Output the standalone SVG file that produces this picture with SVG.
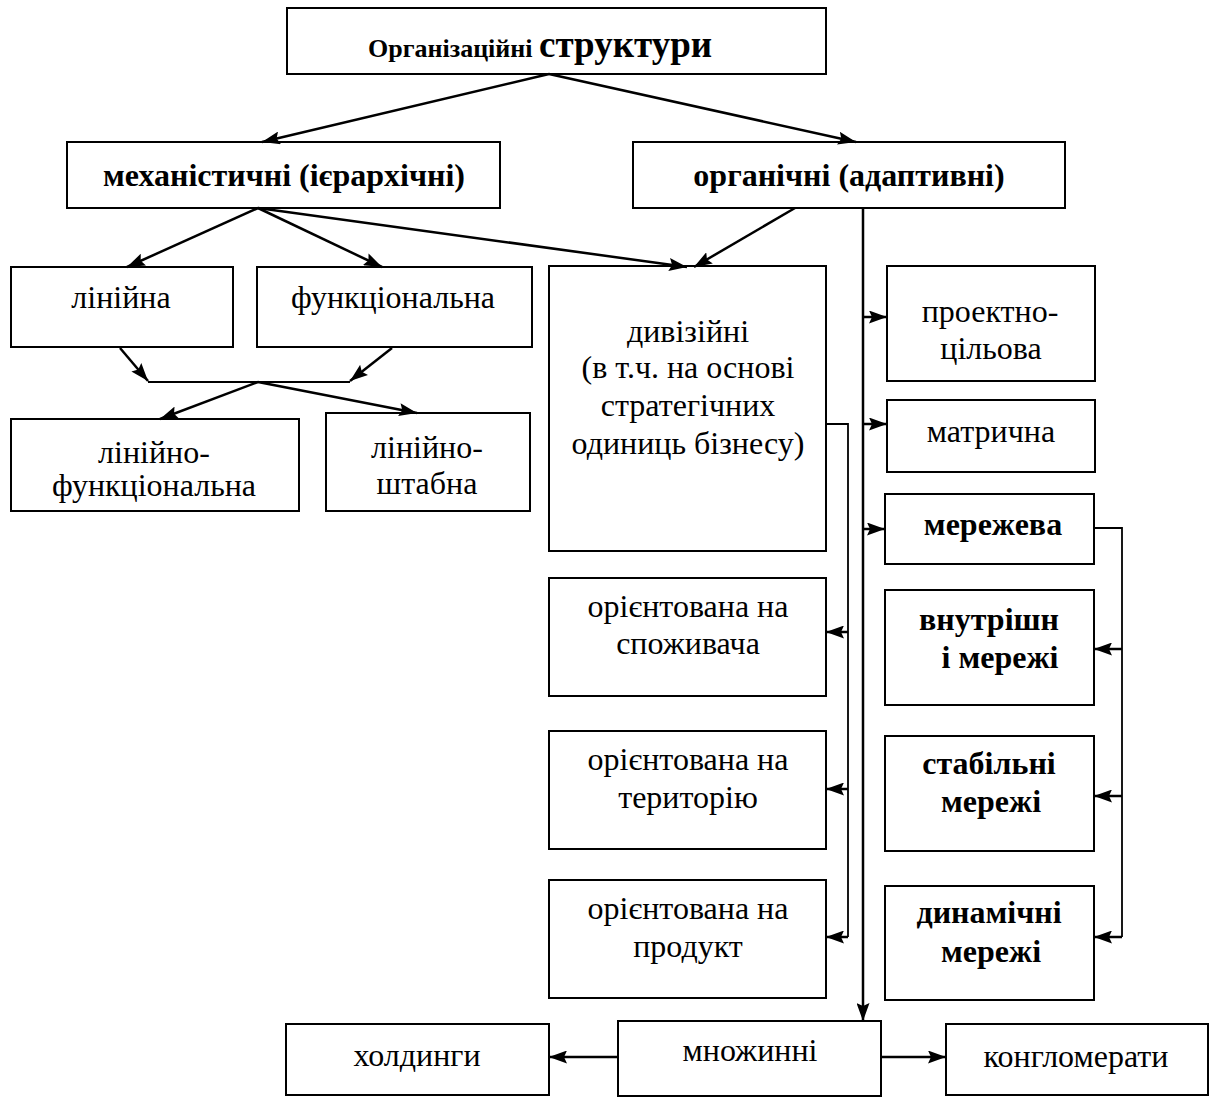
<svg xmlns="http://www.w3.org/2000/svg" width="1210" height="1097" viewBox="0 0 1210 1097">
<style>
.box{fill:#fff;stroke:#000;stroke-width:2}
text{font-family:'Liberation Serif',serif;font-size:32px;text-anchor:middle;fill:#000}
.b{font-weight:bold}
.c{fill:none;stroke:#000;stroke-width:2.5}
.th{fill:none;stroke:#000;stroke-width:1.8}
</style>
<defs>
<marker id="ah" viewBox="0 0 18 13" refX="18" refY="6.5" markerWidth="18" markerHeight="13" markerUnits="userSpaceOnUse" orient="auto">
<path d="M0,0 L18,6.5 L0,13 L3,6.5 z" fill="#000"/>
</marker>
</defs>
<g id="n-root"><rect class="box" x="287" y="8" width="539" height="66"/>
<text class="b" x="368" y="57" style="text-anchor:start"><tspan font-size="26">Організаційні  </tspan><tspan font-size="37">структури</tspan></text></g>
<g id="n-mech"><rect class="box" x="67" y="142" width="433" height="66"/><text class="b" x="284" y="186">механістичні (ієрархічні)</text></g>
<g id="n-org"><rect class="box" x="633" y="142" width="432" height="66"/><text class="b" x="849" y="186">органічні (адаптивні)</text></g>
<g id="n-lin"><rect class="box" x="11" y="267" width="222" height="80"/><text x="121" y="308">лінійна</text></g>
<g id="n-func"><rect class="box" x="257" y="267" width="275" height="80"/><text x="393" y="308">функціональна</text></g>
<g id="n-linfunc"><rect class="box" x="11" y="419" width="288" height="92"/><text x="154" y="463">лінійно-</text><text x="154" y="496">функціональна</text></g>
<g id="n-linshtab"><rect class="box" x="326" y="413" width="204" height="98"/><text x="427" y="458">лінійно-</text><text x="427" y="494">штабна</text></g>
<g id="n-div"><rect class="box" x="549" y="266" width="277" height="285"/>
<text x="688" y="342">дивізійні</text><text x="688" y="378">(в т.ч. на основі</text><text x="688" y="416">стратегічних</text><text x="688" y="454">одиниць бізнесу)</text></g>
<g id="n-cons"><rect class="box" x="549" y="578" width="277" height="118"/><text x="688" y="617">орієнтована на</text><text x="688" y="654">споживача</text></g>
<g id="n-terr"><rect class="box" x="549" y="731" width="277" height="118"/><text x="688" y="770">орієнтована на</text><text x="688" y="808">територію</text></g>
<g id="n-prod"><rect class="box" x="549" y="880" width="277" height="118"/><text x="688" y="919">орієнтована на</text><text x="688" y="957">продукт</text></g>
<g id="n-proj"><rect class="box" x="887" y="266" width="208" height="115"/><text x="990" y="322">проектно-</text><text x="991" y="359">цільова</text></g>
<g id="n-matr"><rect class="box" x="887" y="400" width="208" height="72"/><text x="991" y="442">матрична</text></g>
<g id="n-net"><rect class="box" x="885" y="494" width="209" height="70"/><text class="b" x="993" y="535">мережева</text></g>
<g id="n-inner"><rect class="box" x="885" y="590" width="209" height="115"/><text class="b" x="989" y="630">внутрішн</text><text class="b" x="1000" y="668">і мережі</text></g>
<g id="n-stab"><rect class="box" x="885" y="736" width="209" height="115"/><text class="b" x="989" y="774">стабільні</text><text class="b" x="991" y="812">мережі</text></g>
<g id="n-dyn"><rect class="box" x="885" y="886" width="209" height="114"/><text class="b" x="989" y="923">динамічні</text><text class="b" x="991" y="962">мережі</text></g>
<g id="n-mult"><rect class="box" x="618" y="1021" width="263" height="75"/><text x="750" y="1061">множинні</text></g>
<g id="n-hold"><rect class="box" x="286" y="1024" width="263" height="71"/><text x="417" y="1066">холдинги</text></g>
<g id="n-cong"><rect class="box" x="946" y="1024" width="262" height="71"/><text x="1076" y="1067">конгломерати</text></g>
<g id="connectors">
<line class="c" x1="549" y1="74" x2="262" y2="142" marker-end="url(#ah)"/>
<line class="c" x1="549" y1="74" x2="856" y2="142" marker-end="url(#ah)"/>
<line class="c" x1="258" y1="208" x2="127" y2="267" marker-end="url(#ah)"/>
<line class="c" x1="258" y1="208" x2="382" y2="267" marker-end="url(#ah)"/>
<line class="c" x1="258" y1="208" x2="687" y2="267" marker-end="url(#ah)"/>
<line class="c" x1="795" y1="208" x2="694" y2="267" marker-end="url(#ah)"/>
<line class="c" x1="120" y1="348" x2="148" y2="381" marker-end="url(#ah)"/>
<line class="c" x1="392" y1="348" x2="350" y2="381" marker-end="url(#ah)"/>
<line class="th" x1="148" y1="382" x2="350" y2="382"/>
<line class="c" x1="258" y1="382" x2="160" y2="419" marker-end="url(#ah)"/>
<line class="c" x1="258" y1="382" x2="417" y2="413" marker-end="url(#ah)"/>
<line class="c" x1="863" y1="208" x2="863" y2="1021" marker-end="url(#ah)"/>
<line class="c" x1="863" y1="317" x2="887" y2="317" marker-end="url(#ah)"/>
<line class="c" x1="863" y1="424" x2="887" y2="424" marker-end="url(#ah)"/>
<line class="c" x1="863" y1="529" x2="885" y2="529" marker-end="url(#ah)"/>
<polyline class="th" points="826,424 848,424 848,937"/>
<line class="c" x1="848" y1="632" x2="826" y2="632" marker-end="url(#ah)"/>
<line class="c" x1="848" y1="789" x2="826" y2="789" marker-end="url(#ah)"/>
<line class="c" x1="848" y1="937" x2="826" y2="937" marker-end="url(#ah)"/>
<polyline class="th" points="1094,528 1122,528 1122,937"/>
<line class="c" x1="1122" y1="649" x2="1094" y2="649" marker-end="url(#ah)"/>
<line class="c" x1="1122" y1="796" x2="1094" y2="796" marker-end="url(#ah)"/>
<line class="c" x1="1122" y1="937" x2="1094" y2="937" marker-end="url(#ah)"/>
<line class="c" x1="618" y1="1057" x2="549" y2="1057" marker-end="url(#ah)"/>
<line class="c" x1="881" y1="1057" x2="946" y2="1057" marker-end="url(#ah)"/>
</g>
</svg>
